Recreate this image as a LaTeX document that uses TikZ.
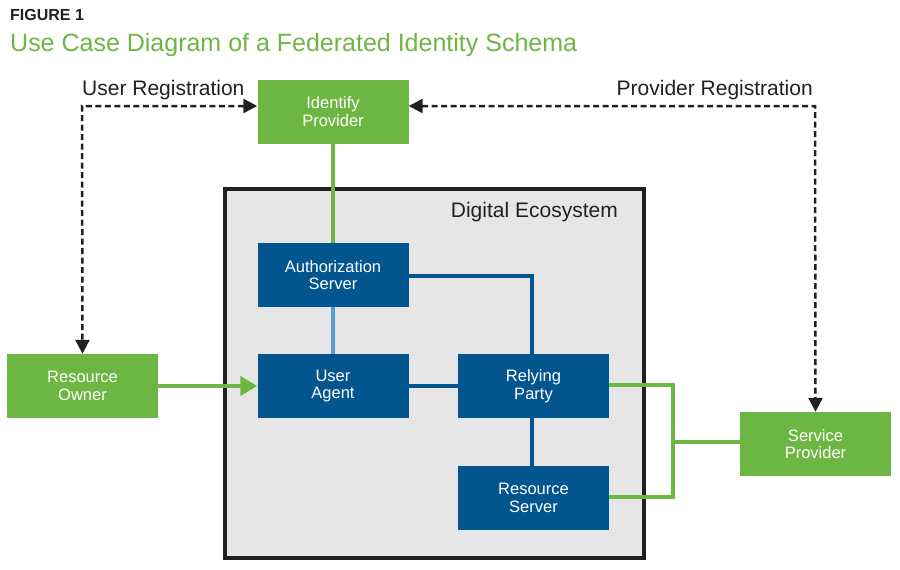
\documentclass[tikz,border=0pt]{standalone}
\usepackage{fontspec}
\setmainfont{Liberation Sans}
\usetikzlibrary{arrows.meta}
\definecolor{fgreen}{HTML}{6DB643}
\definecolor{fblue}{HTML}{03558F}
\definecolor{lblue}{HTML}{5B9BD5}
\definecolor{eco}{HTML}{E6E6E6}
\definecolor{ink}{HTML}{231F20}
\tikzset{
  gbox/.style={draw=none,fill=fgreen,text=white,minimum width=151pt,minimum height=64pt,inner sep=0pt,align=center,font=\fontsize{16.5}{17.5}\selectfont},
  bbox/.style={gbox,fill=fblue},
  tip/.style={Triangle[length=14pt,width=14pt]},
  dashline/.style={draw=ink,line width=2.5pt,dash pattern=on 6pt off 3.5pt,{Triangle[length=14pt,width=14pt]}-{Triangle[length=14pt,width=14pt]}},
  bline/.style={draw=fblue,line width=3.5pt},
  gline/.style={draw=fgreen,line width=3.5pt},
  lbl/.style={text=ink,font=\fontsize{21}{24}\selectfont,inner sep=0pt}
}
\begin{document}
\begin{tikzpicture}[x=1pt,y=-1pt]
\useasboundingbox (0,0) rectangle (900,570);
\node[anchor=west,inner sep=0pt,text=ink,font=\bfseries\fontsize{16}{19}\selectfont] (fig) at (10,15) {FIGURE 1};
\node[anchor=west,inner sep=0pt,text=fgreen,font=\fontsize{25}{28}\selectfont] (title) at (10,45) {Use Case Diagram of a Federated Identity Schema};
% ecosystem
\node[draw=ink,line width=3.5pt,fill=eco,minimum width=419pt,minimum height=369pt,inner sep=0pt,anchor=north west] (eco) at (223,187) {};
\node[lbl,anchor=east] (ecolbl) at (618,212) {Digital Ecosystem};
% boxes
\node[gbox] (idp) at (333,111.5) {Identify\\Provider};
\node[bbox] (auth) at (333,275) {Authorization\\Server};
\node[bbox] (ua) at (333,386) {User\\Agent};
\node[bbox] (rp) at (533.5,386) {Relying\\Party};
\node[bbox] (rs) at (533.5,498) {Resource\\Server};
\node[gbox] (ro) at (82.5,386) {Resource\\Owner};
\node[gbox] (sp) at (815.5,444) {Service\\Provider};
% labels
\node[lbl,anchor=base west] (ureg) at (82,95) {User Registration};
\node[lbl,anchor=base east] (preg) at (813,95) {Provider Registration};
% coordinates
\coordinate (lc) at (82,106);
\coordinate (rc) at (815,106);
\coordinate (ac) at (532,276);
\coordinate (g1) at (673,385);
\coordinate (g2) at (673,497);
\coordinate (g3) at (673,442);
% dashed registration lines
\draw[dashline] (idp.west |- lc) -- (lc) -- (ro.north);
\draw[dashline] (idp.east |- rc) -- (rc) -- (sp.north);
% connectors
\draw[gline] (idp.south) -- (auth.north);
\draw[draw=lblue,line width=3.5pt] (auth.south) -- (ua.north);
\draw[bline] (auth.east |- ac) -- (ac) -- (rp.north -| ac);
\draw[bline] (ua.east) -- (rp.west);
\draw[bline] (rp.south -| ac) -- (rs.north -| ac);
\draw[gline,line width=4.5pt,-{Triangle[length=17pt,width=19pt]}] (ro.east) -- (ua.west);
\draw[gline] (rp.east |- g1) -- (g1) -- (g2) -- (rs.east |- g2);
\draw[gline] (g3) -- (sp.west |- g3);
\end{tikzpicture}
\end{document}
